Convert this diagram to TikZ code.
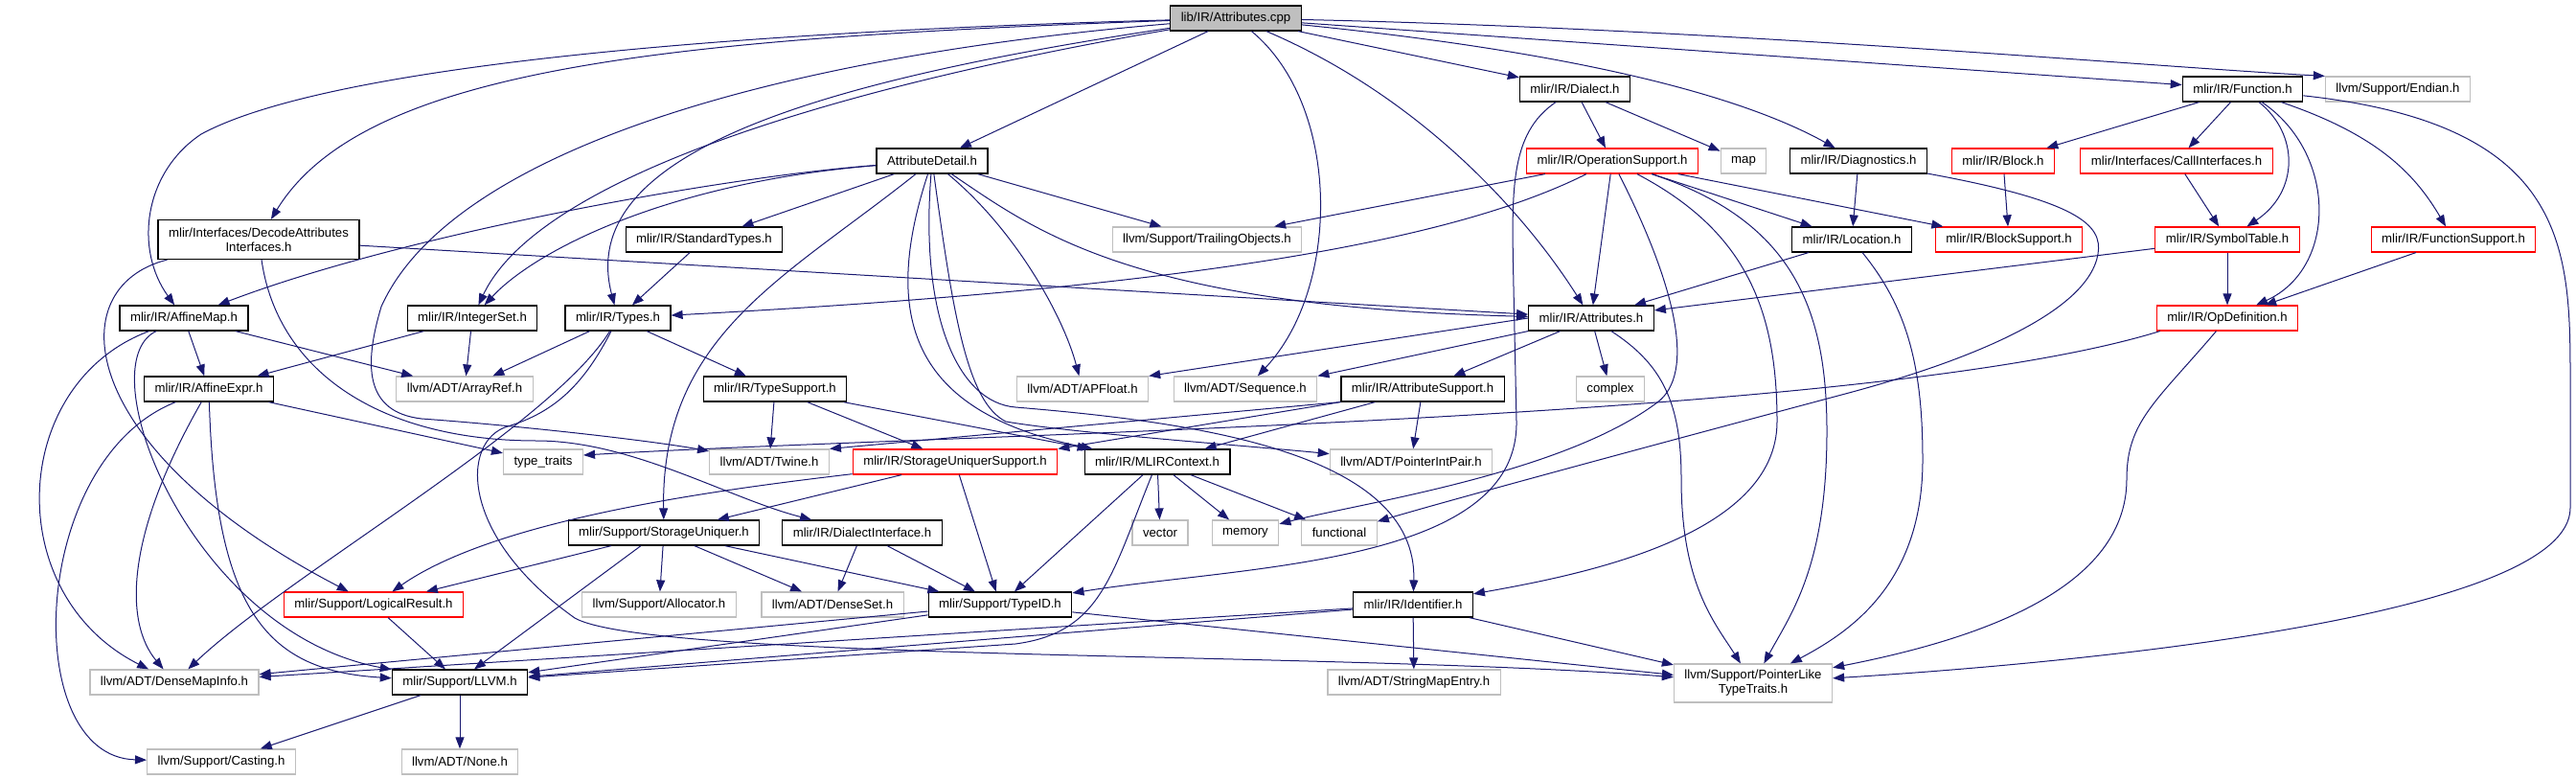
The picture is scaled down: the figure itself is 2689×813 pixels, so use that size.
\documentclass[tikz,border=0pt]{standalone}
\usepackage{fontspec}
\setmainfont{Liberation Sans}
\usetikzlibrary{arrows.meta}

\definecolor{edgeblue}{RGB}{25,25,112}
\definecolor{boxgray}{RGB}{191,191,191}

\tikzset{
  incfile/.style={draw=black, fill=white, line width=1.2pt, inner xsep=11pt, inner ysep=0pt,
    minimum height=26pt, font=\fontsize{13.2}{15}\selectfont},
  extfile/.style={incfile, draw=boxgray},
  truncfile/.style={incfile, draw=red},
  rootfile/.style={incfile, fill=boxgray},
  incl/.style={draw=edgeblue, line width=1pt, -{Triangle[length=12pt,width=9pt]}}
}

\begin{document}
\begin{tikzpicture}[x=1pt, y=-1pt]
    \useasboundingbox (0,0) rectangle (2689,813);

    % top rows
    \node[rootfile] (cpp) at (1290,19) {lib/IR/Attributes.cpp};
    \node[incfile] (dialect) at (1644,93) {mlir/IR/Dialect.h};
    \node[incfile] (function) at (2341,93) {mlir/IR/Function.h};
    \node[extfile] (endian) at (2503,93) {llvm/Support/Endian.h};
    \node[incfile] (attrdetail) at (973,168) {AttributeDetail.h};
    \node[truncfile] (opsupport) at (1683,168) {mlir/IR/OperationSupport.h};
    \node[extfile] (map) at (1820,168) {map};
    \node[incfile] (diagnostics) at (1940,168) {mlir/IR/Diagnostics.h};
    \node[truncfile] (block) at (2091,168) {mlir/IR/Block.h};
    \node[truncfile] (callif) at (2272,168) {mlir/Interfaces/CallInterfaces.h};
    \node[incfile, align=center, minimum height=41pt] (decode) at (270,250) {mlir/Interfaces/DecodeAttributes\\Interfaces.h};
    \node[incfile] (stdtypes) at (735,250) {mlir/IR/StandardTypes.h};
    \node[extfile] (trailing) at (1260,250) {llvm/Support/TrailingObjects.h};
    \node[incfile] (location) at (1933,250) {mlir/IR/Location.h};
    \node[truncfile] (blocksupport) at (2097,250) {mlir/IR/BlockSupport.h};
    \node[truncfile] (symtable) at (2325,250) {mlir/IR/SymbolTable.h};
    \node[truncfile] (funcsupport) at (2561,250) {mlir/IR/FunctionSupport.h};

    % middle rows
    \node[incfile] (affinemap) at (192,332) {mlir/IR/AffineMap.h};
    \node[incfile] (intset) at (493,332) {mlir/IR/IntegerSet.h};
    \node[incfile] (types) at (645,332) {mlir/IR/Types.h};
    \node[incfile] (attrh) at (1661,332) {mlir/IR/Attributes.h};
    \node[truncfile] (opdef) at (2325,332) {mlir/IR/OpDefinition.h};
    \node[incfile] (affineexpr) at (218,406) {mlir/IR/AffineExpr.h};
    \node[extfile] (arrayref) at (485,406) {llvm/ADT/ArrayRef.h};
    \node[incfile] (typesupport) at (809,406) {mlir/IR/TypeSupport.h};
    \node[extfile] (apfloat) at (1130,406) {llvm/ADT/APFloat.h};
    \node[extfile] (sequence) at (1300,406) {llvm/ADT/Sequence.h};
    \node[incfile] (attrsupport) at (1485,406) {mlir/IR/AttributeSupport.h};
    \node[extfile] (complex) at (1681,406) {complex};
    \node[extfile] (typetraits) at (567,482) {type\_traits};
    \node[extfile] (twine) at (803,482) {llvm/ADT/Twine.h};
    \node[truncfile] (sus) at (997,482) {mlir/IR/StorageUniquerSupport.h};
    \node[incfile] (context) at (1208,482) {mlir/IR/MLIRContext.h};
    \node[extfile] (ptrintpair) at (1473,482) {llvm/ADT/PointerIntPair.h};

    % bottom rows
    \node[incfile] (uniquer) at (693,556) {mlir/Support/StorageUniquer.h};
    \node[incfile] (dialectif) at (900,556) {mlir/IR/DialectInterface.h};
    \node[extfile] (vector) at (1211,556) {vector};
    \node[extfile] (memory) at (1300,556) {memory};
    \node[extfile] (functional) at (1398,556) {functional};
    \node[truncfile] (logical) at (390,631) {mlir/Support/LogicalResult.h};
    \node[extfile] (allocator) at (688,631) {llvm/Support/Allocator.h};
    \node[extfile] (denseset) at (869,631) {llvm/ADT/DenseSet.h};
    \node[incfile] (typeid) at (1044,631) {mlir/Support/TypeID.h};
    \node[incfile] (identifier) at (1475,631) {mlir/IR/Identifier.h};
    \node[extfile] (densemapinfo) at (182,712) {llvm/ADT/DenseMapInfo.h};
    \node[incfile] (llvmh) at (480,712) {mlir/Support/LLVM.h};
    \node[extfile] (stringmap) at (1476,712) {llvm/ADT/StringMapEntry.h};
    \node[extfile, align=center, minimum height=40pt] (ptrlike) at (1830,713) {llvm/Support/PointerLike\\TypeTraits.h};
    \node[extfile] (casting) at (231,795) {llvm/Support/Casting.h};
    \node[extfile] (none) at (480,795) {llvm/ADT/None.h};

    % straight includes
    \foreach \a/\b in {cpp/attrdetail, cpp/dialect, cpp/function, dialect/opsupport, dialect/map,
        diagnostics/location, function/block, function/callif, block/blocksupport, callif/symtable,
        symtable/opdef, symtable/attrh, funcsupport/opdef, attrdetail/stdtypes, attrdetail/trailing,
        stdtypes/types, decode/attrh, opsupport/trailing, opsupport/attrh, opsupport/location,
        opsupport/blocksupport, location/attrh, affinemap/affineexpr, affinemap/arrayref,
        intset/affineexpr, intset/arrayref, types/arrayref, types/typesupport, affineexpr/typetraits,
        attrh/attrsupport, attrh/complex, typesupport/twine, typesupport/sus, typesupport/context,
        attrsupport/context, attrsupport/ptrintpair, sus/uniquer, sus/typeid, context/typeid,
        context/vector, context/memory, context/functional, uniquer/logical, uniquer/allocator,
        uniquer/denseset, uniquer/typeid, dialectif/denseset, dialectif/typeid, logical/llvmh,
        typeid/llvmh, typeid/densemapinfo, typeid/ptrlike, identifier/llvmh, identifier/densemapinfo,
        identifier/stringmap, identifier/ptrlike, llvmh/casting, llvmh/none}
        \draw[incl] (\a) -- (\b);
    \draw[incl] (attrh.west) -- (apfloat.north east);
    \draw[incl] (attrh.south west) -- (sequence.north east);
    \draw[incl] (attrsupport.south west) -- (twine.north east);
    \draw[incl] (attrsupport.south west) -- (sus.north east);
    \draw[incl] ([xshift=-24pt]uniquer.south) -- ([xshift=15pt]llvmh.north);

    % from the source file
    \draw[incl] (cpp) .. controls (1800,30) and (2250,70) .. (endian.north west);
    \draw[incl] (cpp) .. controls (1600,50) and (1800,90) .. (diagnostics);
    \draw[incl] (cpp) .. controls (1480,100) and (1590,220) .. (attrh);
    \draw[incl] (cpp) .. controls (1400,110) and (1400,300) .. (sequence);
    \draw[incl] (cpp) .. controls (850,85) and (600,160) .. (types);
    \draw[incl] (cpp) .. controls (850,95) and (560,190) .. (intset);
    \draw[incl] (cpp) .. controls (700,40) and (380,70) .. (decode);
    \draw[incl] (cpp) .. controls (700,35) and (330,75) .. (210,140) .. controls (150,180) and (140,260) .. (affinemap);
    \draw[incl] (cpp) .. controls (800,60) and (470,160) .. (398,320) .. controls (380,380) and (380,430) .. (440,437)
        .. controls (550,445) and (680,460) .. (twine);

    % AttributeDetail.h
    \draw[incl] (attrdetail) .. controls (750,185) and (420,245) .. (affinemap);
    \draw[incl] (attrdetail) .. controls (700,190) and (560,260) .. (intset);
    \draw[incl] (attrdetail) .. controls (820,290) and (690,350) .. (uniquer);
    \draw[incl] (attrdetail) .. controls (920,330) and (950,430) .. (context);
    \draw[incl] (attrdetail) .. controls (960,330) and (1000,420) .. (1060,425) .. controls (1240,440) and (1480,470) .. (identifier);
    \draw[incl] (attrdetail) .. controls (995,330) and (1010,420) .. (1050,440) .. controls (1120,452) and (1300,465) .. (ptrintpair);
    \draw[incl] (attrdetail) .. controls (1060,240) and (1110,330) .. (apfloat);
    \draw[incl] (attrdetail) .. controls (1080,240) and (1180,320) .. (attrh);

    % left side
    \draw[incl] ([xshift=10pt]decode.south west) .. controls (60,300) and (80,470) .. (logical);
    \draw[incl] (decode) .. controls (290,390) and (400,460) .. (560,460) .. controls (660,460) and (760,520) .. (dialectif);
    \draw[incl] (affinemap) .. controls (10,400) and (0,620) .. (densemapinfo);
    \draw[incl] (affinemap) .. controls (90,380) and (200,660) .. (llvmh);
    \draw[incl] (affineexpr) .. controls (30,480) and (20,790) .. (casting);
    \draw[incl] (affineexpr) .. controls (130,560) and (130,650) .. (densemapinfo);
    \draw[incl] (affineexpr) .. controls (225,640) and (280,700) .. (llvmh);
    \draw[incl] (types) .. controls (575,445) and (300,600) .. (densemapinfo);
    \draw[incl] (types) .. controls (610,400) and (580,430) .. (530,445) .. controls (480,460) and (480,560) .. (600,645)
        .. controls (680,690) and (1400,680) .. (ptrlike);

    % middle
    \draw[incl] (sus) .. controls (760,510) and (520,540) .. (logical);
    \draw[incl] (context) .. controls (1160,600) and (1150,660) .. (1060,672) -- (llvmh);
    \draw[incl] (dialect) .. controls (1575,140) and (1578,200) .. (1580,300) -- (1583,440)
        .. controls (1585,590) and (1300,590) .. (typeid);
    \draw[incl] (opsupport) .. controls (1520,250) and (1250,300) .. (types);
    \draw[incl] (opsupport) .. controls (1750,300) and (1770,390) .. (1730,420) .. controls (1630,495) and (1420,525) .. (memory);
    \draw[incl] (opsupport) .. controls (1820,240) and (1855,320) .. (1855,440) .. controls (1855,560) and (1650,600) .. (identifier);
    \draw[incl] (opsupport) .. controls (1870,230) and (1907,320) .. (1907,450) .. controls (1907,590) and (1870,640) .. (ptrlike);
    \draw[incl] (attrh) .. controls (1735,380) and (1755,420) .. (1755,500) .. controls (1755,610) and (1790,650) .. (ptrlike);
    \draw[incl] (location) .. controls (1990,320) and (2007,380) .. (2007,480) .. controls (2007,610) and (1930,660) .. (ptrlike);
    \draw[incl] (diagnostics) .. controls (2170,210) and (2195,235) .. (2190,265) .. controls (2180,325) and (2060,375) .. (1930,410)
        .. controls (1735,462) and (1520,520) .. (functional);

    % right side
    \draw[incl] (function) .. controls (2400,140) and (2400,200) .. (symtable);
    \draw[incl] (function) .. controls (2440,160) and (2440,280) .. (opdef);
    \draw[incl] (function) .. controls (2480,140) and (2520,180) .. (funcsupport);
    \draw[incl] (function) .. controls (2683,130) and (2683,260) .. (2683,400) -- (2683,530)
        .. controls (2683,640) and (2200,690) .. (ptrlike);
    \draw[incl] ([xshift=4pt]opdef.south west) .. controls (1950,440) and (1000,452) .. ([yshift=7pt]typetraits.east);
    \draw[incl] (opdef) .. controls (2250,420) and (2220,440) .. (2220,500) .. controls (2220,620) and (2050,670) .. (ptrlike);
\end{tikzpicture}
\end{document}
